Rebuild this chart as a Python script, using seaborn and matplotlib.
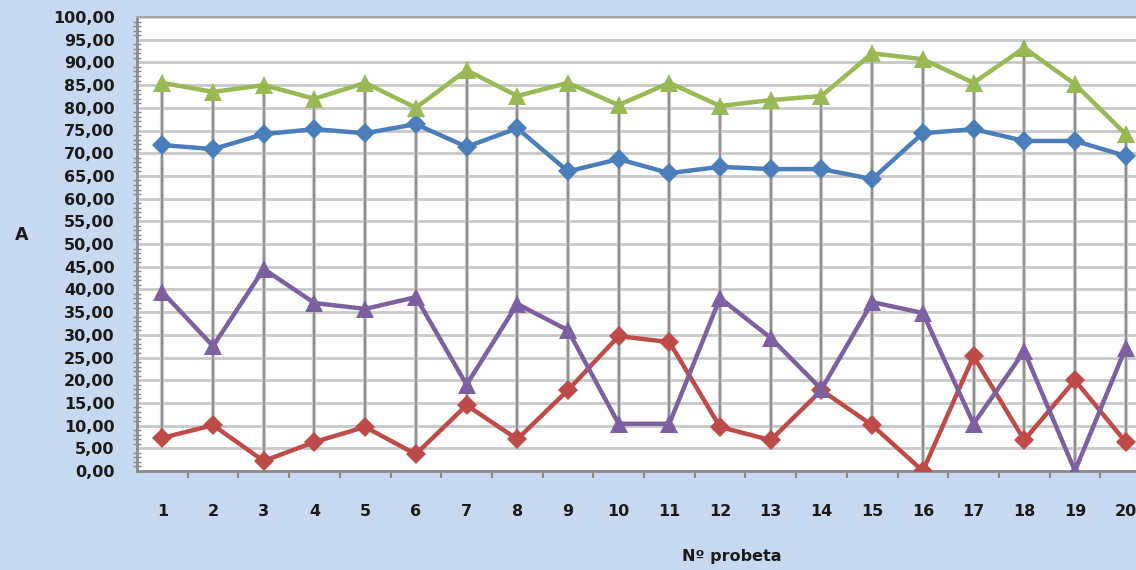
import matplotlib
matplotlib.use("Agg")
import matplotlib.pyplot as plt
import seaborn as sns
import pandas as pd
import numpy as np
from matplotlib.ticker import MultipleLocator, FixedLocator, FuncFormatter

# ---- data ----
probetas = list(range(1, 21))
serie_azul = [71.8, 70.9, 74.2, 75.3, 74.4, 76.4, 71.4, 75.5, 66.0, 68.7,
              65.6, 67.0, 66.5, 66.5, 64.3, 74.4, 75.3, 72.7, 72.7, 69.4]
serie_roja = [7.3, 10.1, 2.2, 6.4, 9.7, 3.7, 14.5, 7.0, 17.8, 29.7,
              28.4, 9.7, 6.8, 17.8, 10.1, 0.0, 25.3, 6.8, 20.0, 6.4]
serie_verde = [85.5, 83.5, 85.0, 82.0, 85.5, 80.0, 88.3, 82.6, 85.5, 80.6,
               85.5, 80.4, 81.7, 82.6, 92.0, 90.7, 85.5, 93.2, 85.2, 74.2]
serie_morada = [39.4, 27.5, 44.5, 37.0, 35.7, 38.3, 19.0, 36.8, 31.0, 10.4,
                10.4, 38.1, 29.3, 18.0, 37.2, 34.8, 10.4, 26.4, 0.0, 27.1]
series_names = ["Serie 1", "Serie 2", "Serie 3", "Serie 4"]
y_ticks = list(range(0, 101, 5))

colors = {"Serie 1": "#4a7ebb", "Serie 2": "#be4b48",
          "Serie 3": "#98b954", "Serie 4": "#7d60a0"}
markers = {"Serie 1": "D", "Serie 2": "D", "Serie 3": "^", "Serie 4": "^"}

df = pd.DataFrame({
    "probeta": probetas * 4,
    "valor": serie_azul + serie_roja + serie_verde + serie_morada,
    "serie": sum([[n] * len(probetas) for n in series_names], []),
})

sns.set_theme(style="white")
plt.rcParams["font.family"] = ["DejaVu Sans"]

bg = "#c6d9f0"
fig = plt.figure(figsize=(11.36, 5.70), dpi=100, facecolor=bg)
ax = fig.add_axes([137 / 1136, (570 - 471) / 570, (1151 - 137) / 1136, (471 - 17) / 570])
ax.set_facecolor("white")

# high-low lines
wide = df.pivot(index="probeta", columns="serie", values="valor")
ax.vlines(wide.index, wide.min(axis=1), wide.max(axis=1), color="#cacaca", lw=3.0, zorder=2)
ax.vlines(wide.index, wide.min(axis=1), wide.max(axis=1), color="#7f7f7f", lw=1.1, zorder=2.1)

sns.lineplot(data=df, x="probeta", y="valor", hue="serie", style="serie",
             palette=colors, markers=markers, dashes=False, linewidth=3.2,
             markersize=10, markeredgewidth=0, legend=False, ax=ax, zorder=3)
for ln in ax.get_lines():
    if ln.get_marker() == "^":
        ln.set_markersize(12.5)

ax.set_xlim(0.5, 20.5)
ax.set_ylim(0, 100)
ax.yaxis.set_major_locator(FixedLocator(y_ticks))
ax.yaxis.set_minor_locator(MultipleLocator(1))
ax.yaxis.set_major_formatter(FuncFormatter(lambda v, p: f"{v:.2f}".replace(".", ",")))
ax.set_xticks(probetas)
ax.set_xticklabels([str(p) for p in probetas])
ax.xaxis.set_minor_locator(FixedLocator(np.arange(1.5, 20.5, 1.0)))

ax.yaxis.grid(True, which="major", color="#c8c8c8", lw=2.0, zorder=1)
ax.xaxis.grid(False)
ax.set_axisbelow(True)

ax.spines["right"].set_visible(False)
ax.spines["top"].set_color("#a6a6a6")
ax.spines["top"].set_linewidth(1.5)
for s in ["left", "bottom"]:
    ax.spines[s].set_color("#8a8a8a")
    ax.spines[s].set_linewidth(2.0)

ax.tick_params(axis="y", which="major", direction="inout", length=8, width=1.5,
               color="#8a8a8a", pad=12, labelsize=11.5, labelcolor="#1a1a1a")
ax.tick_params(axis="y", which="minor", direction="inout", length=6, width=1.0,
               color="#8a8a8a", left=True)
ax.tick_params(axis="x", which="major", length=0, pad=24, labelsize=11.5,
               labelcolor="#1a1a1a")
ax.tick_params(axis="x", which="minor", direction="out", length=5, width=1.5,
               color="#8a8a8a", bottom=True)
for lab in ax.get_yticklabels() + ax.get_xticklabels():
    lab.set_fontweight("bold")

ax.set_xlabel("")
ax.set_ylabel("")
fig.text(732 / 1136, 1 - 557 / 570, "Nº probeta", ha="center", va="center",
         fontsize=11.5, fontweight="bold", color="#1a1a1a")
fig.text(22 / 1136, 1 - 235 / 570, "A", ha="center", va="center",
         fontsize=12.5, fontweight="bold", color="#1a1a1a")

fig.savefig("out.png", dpi=100, facecolor=bg)
